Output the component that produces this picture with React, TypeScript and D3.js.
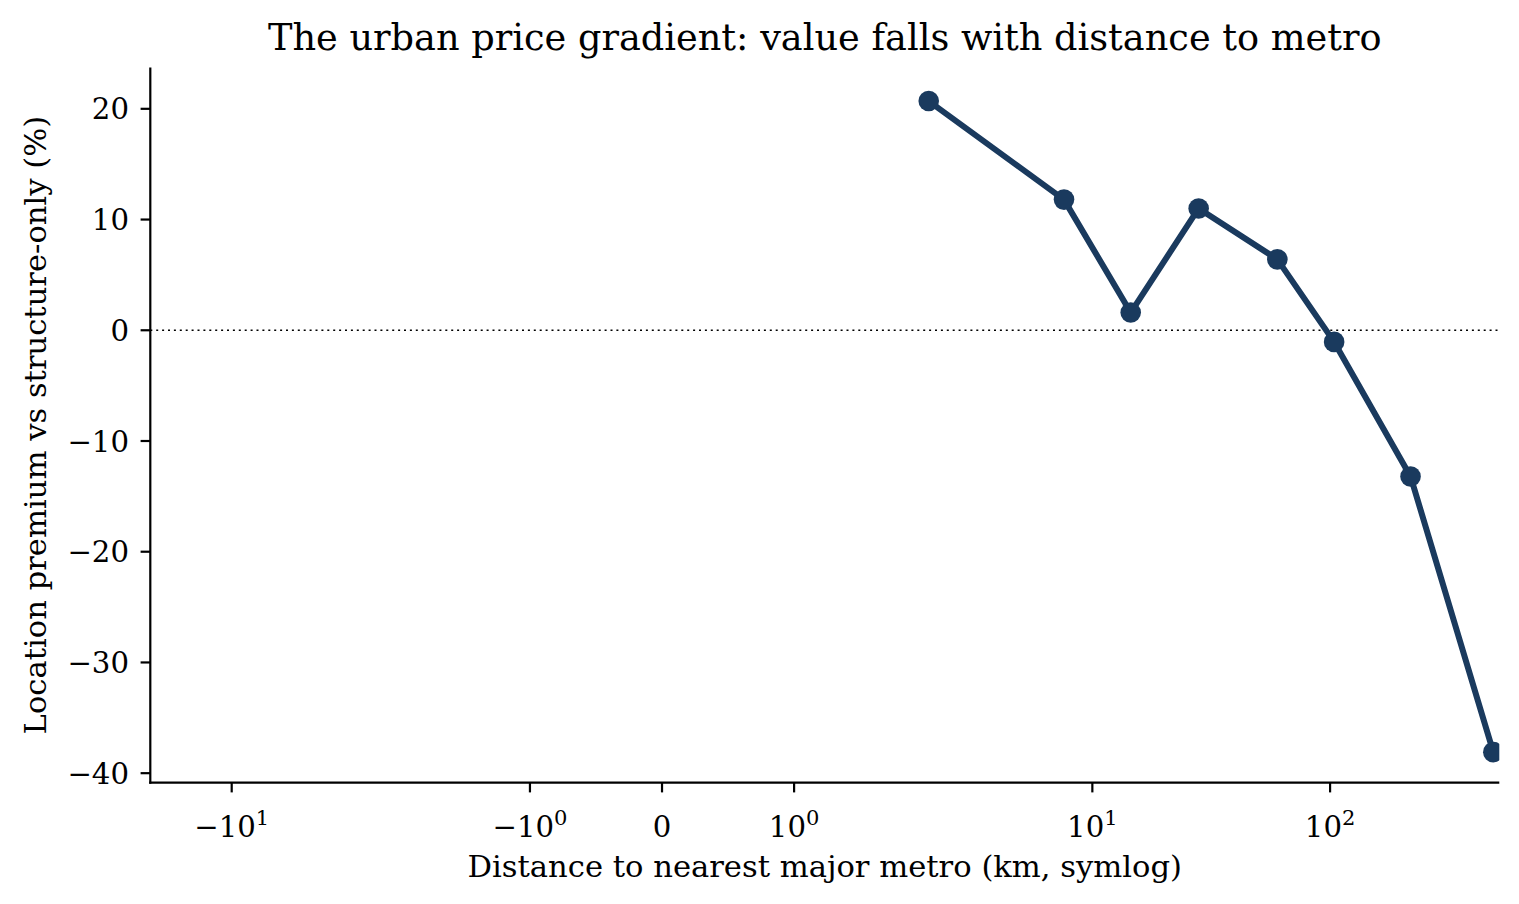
import React from 'react';
import * as d3 from 'd3';

// distance to nearest major metro (km) and location premium (%)
const distanceKm = [2.05, 7.6, 14.5, 28, 60, 104, 218, 486];
const premiumPct = [20.7, 11.8, 1.6, 11.0, 6.4, -1.05, -13.2, -38.1];

const xTicks = [-10, -1, 0, 1, 10, 100];
const yTicks = [-40, -30, -20, -10, 0, 10, 20];

const xLimits = [-22, 515];
const yLimits = [-40.86, 23.74];

const LINTHRESH = 2;
const LINSCALE = 1;
const BASE = 10;

// matplotlib style symlog transform
const linscaleAdj = LINSCALE / (1 - 1 / BASE);
function symlog(v: number): number {
  const a = Math.abs(v);
  if (a <= LINTHRESH) return v * linscaleAdj;
  return Math.sign(v) * LINTHRESH * (linscaleAdj + Math.log(a / LINTHRESH) / Math.log(BASE));
}

const W = 1519;
const H = 904;
const left = 150.3;
const right = 1499.3;
const top = 67.4;
const bottom = 782.7;

const FONT = '"DejaVu Serif", serif';
const NAVY = '#1a3a5e';
const TICK_FS = 29.2;
const LABEL_FS = 30.6;
const TITLE_FS = 36.7;

function xTickLabel(v: number) {
  if (v === 0) return <tspan>0</tspan>;
  const exp = Math.round(Math.log10(Math.abs(v)));
  return (
    <>
      <tspan>{v < 0 ? '\u221210' : '10'}</tspan>
      <tspan dy={-12.5} fontSize={21}>{exp}</tspan>
    </>
  );
}

export default function App() {
  const xs = d3.scaleLinear().domain(xLimits.map(symlog)).range([left, right]);
  const x = (v: number) => xs(symlog(v));
  const y = d3.scaleLinear().domain(yLimits).range([bottom, top]);

  const pts = distanceKm.map((d, i) => [d, premiumPct[i]] as [number, number]);
  const line = d3.line<[number, number]>()
    .x(d => x(d[0]))
    .y(d => y(d[1]));

  return (
    <svg width={W} height={H} style={{ position: 'absolute', left: 0, top: 0, background: '#fff' }}
      fontFamily={FONT}>
      <defs>
        <clipPath id="plot-area">
          <rect x={left} y={top} width={right - left} height={bottom - top} />
        </clipPath>
      </defs>

      {/* zero reference */}
      <line x1={left} x2={right} y1={y(0)} y2={y(0)} stroke="#000" strokeWidth={1.4}
        strokeDasharray="2,3.9" />

      <g clipPath="url(#plot-area)">
        <path d={line(pts) ?? ''} fill="none" stroke={NAVY} strokeWidth={6}
          strokeLinejoin="round" strokeLinecap="round" />
        {pts.map((p, i) => (
          <circle key={i} cx={x(p[0])} cy={y(p[1])} r={10.3} fill={NAVY} />
        ))}
      </g>

      {/* spines */}
      <line x1={left} x2={left} y1={top} y2={bottom + 1.1} stroke="#000" strokeWidth={2.2} />
      <line x1={left - 1.1} x2={right} y1={bottom} y2={bottom} stroke="#000" strokeWidth={2.2} />

      {/* y axis */}
      {yTicks.map(t => (
        <g key={t}>
          <line x1={left - 9.7} x2={left} y1={y(t)} y2={y(t)} stroke="#000" strokeWidth={2.2} />
          <text x={129} y={y(t)} dy="0.36em" textAnchor="end" fontSize={TICK_FS}>
            {t < 0 ? `\u2212${-t}` : `${t}`}
          </text>
        </g>
      ))}

      {/* x axis */}
      {xTicks.map(t => (
        <g key={t}>
          <line x1={x(t)} x2={x(t)} y1={bottom} y2={bottom + 9.7} stroke="#000" strokeWidth={2.2} />
          <text x={x(t)} y={837} textAnchor="middle" fontSize={TICK_FS}>
            {xTickLabel(t)}
          </text>
        </g>
      ))}

      <text x={(left + right) / 2} y={877} textAnchor="middle" fontSize={LABEL_FS}>
        Distance to nearest major metro (km, symlog)
      </text>
      <text transform={`translate(46,${(top + bottom) / 2}) rotate(-90)`} textAnchor="middle"
        fontSize={LABEL_FS}>
        Location premium vs structure-only (%)
      </text>
      <text x={(left + right) / 2} y={50} textAnchor="middle" fontSize={TITLE_FS}>
        The urban price gradient: value falls with distance to metro
      </text>
    </svg>
  );
}
